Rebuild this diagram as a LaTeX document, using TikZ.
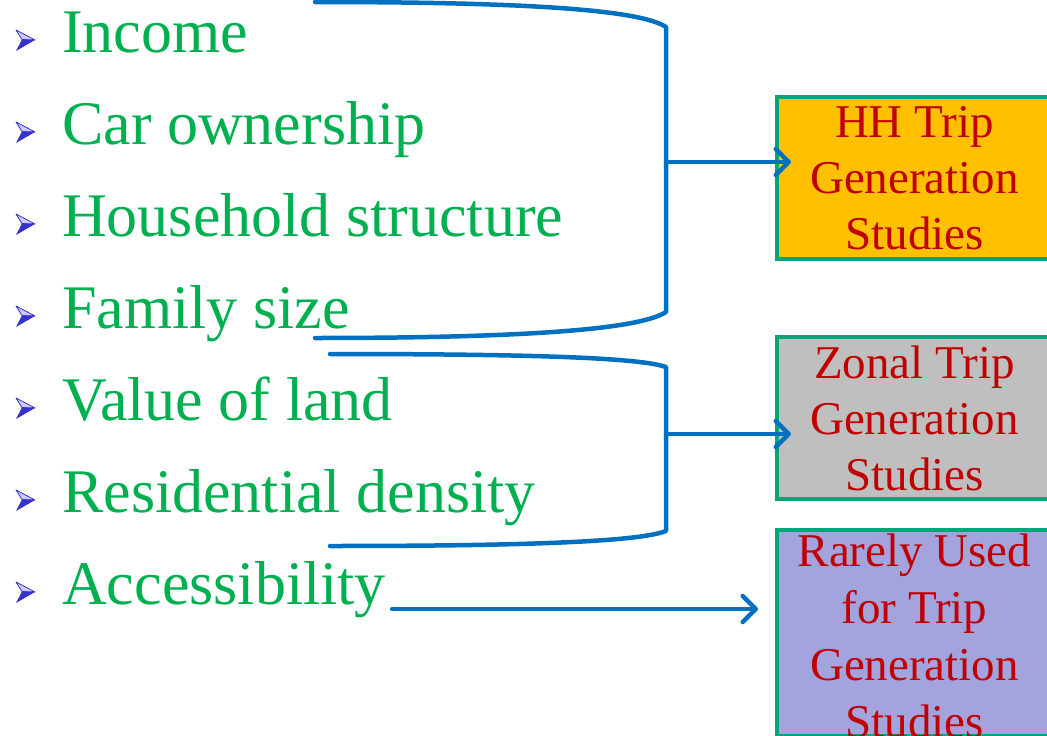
\documentclass[tikz,border=0pt]{standalone}
\usepackage{fontspec}
\setmainfont{Liberation Serif}
\usetikzlibrary{arrows.meta}

\definecolor{itemgreen}{RGB}{0,176,80}
\definecolor{linkblue}{RGB}{0,112,192}
\definecolor{boxred}{RGB}{192,0,0}
\definecolor{boxedge}{RGB}{0,166,118}
\definecolor{hhfill}{RGB}{255,192,0}
\definecolor{zonefill}{RGB}{191,191,191}
\definecolor{rarefill}{RGB}{163,163,221}
\definecolor{bulletdark}{RGB}{51,51,204}
\definecolor{bulletlight}{RGB}{205,205,245}

\tikzset{
  item/.style={anchor=base west, inner sep=0pt, text=itemgreen,
    font=\fontsize{62}{70}\selectfont},
  boxtext/.style={inner sep=0pt, align=center, text=boxred,
    font=\fontsize{47}{56}\selectfont},
  studybox/.style={boxtext, draw=boxedge, line width=4pt, minimum width=275pt,
    minimum height=162pt},
  link/.style={draw=linkblue, line width=4.5pt, line cap=round, line join=round},
  linkarrow/.style={link, -{Straight Barb[round, length=13pt, width=26pt]}},
  arrowbullet/.pic={
    \fill[bulletlight, draw=bulletdark, line width=0.8pt, line join=round]
      (16,-22) -- (35,-12) -- (22,-12.5) -- cycle;
    \fill[bulletdark] (22,-12.5) -- (35,-12) -- (16,-1) -- cycle;
  }
}

\begin{document}
\begin{tikzpicture}[x=1pt, y=-1pt]
  \useasboundingbox (0,0) rectangle (1047,736);

  % bullet list of factors
  \foreach \b/\name/\txt in {52/inc/Income, 144/car/Car ownership,
      236/hhs/Household structure, 328/fam/Family size,
      420/val/Value of land, 512/res/Residential density,
      604/acc/Accessibility} {
    \pic at (0,\b) {arrowbullet};
    \node[item] (\name) at (62,\b) {\txt};
  }

  % study type boxes
  \node[studybox, fill=hhfill] (hh) at (914.5,178) {HH Trip\\Generation\\Studies};
  \node[studybox, fill=zonefill] (zone) at (914.5,418) {Zonal Trip\\Generation\\Studies};
  \node[studybox, fill=rarefill, minimum height=206pt] (rare) at (914.5,633) {};
  \node[boxtext, anchor=north, font=\fontsize{47}{57}\selectfont] (rarelbl)
    at (914.5,534) {Rarely Used\\for Trip\\Generation\\Studies};

  % household-level bracket
  \coordinate (b1t) at (315,2);
  \coordinate (b1b) at (315,338);
  \coordinate (b1m) at (666,162);
  \draw[link] (b1t) .. controls (530,2) and (640,10) .. (666,27)
    -- (666,312) .. controls (640,329) and (530,338) .. (b1b);
  \draw[linkarrow, shorten >=-16pt] (b1m) -- (hh.west |- b1m);

  % zonal-level bracket
  \coordinate (b2t) at (330,354);
  \coordinate (b2b) at (330,546);
  \coordinate (b2m) at (666,434);
  \draw[link] (b2t) .. controls (540,354) and (640,358) .. (666,367)
    -- (666,531) .. controls (640,541) and (540,546) .. (b2b);
  \draw[linkarrow, shorten >=-16pt] (b2m) -- (zone.west |- b2m);

  % accessibility arrow
  \coordinate (a3) at ([shift={(6,5)}]acc.base east);
  \draw[linkarrow, shorten >=17pt] (a3) -- (rare.west |- a3);
\end{tikzpicture}
\end{document}
